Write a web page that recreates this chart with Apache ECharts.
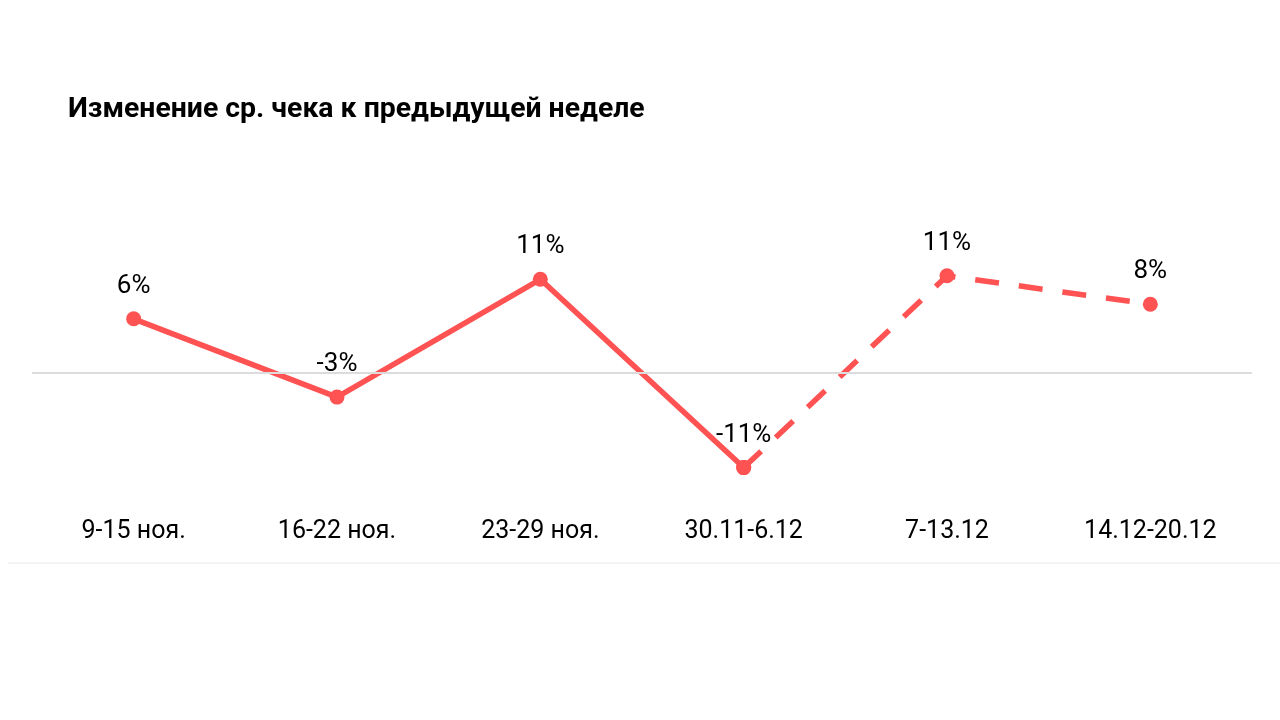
<!DOCTYPE html>
<html>
<head>
<meta charset="utf-8">
<script src="https://cdn.jsdelivr.net/npm/echarts@6/dist/echarts.min.js"></script>
<style>
	html,body{margin:0;padding:0;background:#fff;}
	#chart{width:1280px;height:720px;}
</style>
</head>
<body>
<div id="chart"></div>
<script type="text/javascript">
	// недели и изменение среднего чека, %
	var weeks = ['9-15 ноя.', '16-22 ноя.', '23-29 ноя.', '30.11-6.12', '7-13.12', '14.12-20.12'];
	var factValues = [6.3, -2.8, 10.9, -11.0, null, null];
	var forecastValues = [null, null, null, -11.0, 11.3, 8.0];
	var labelFrom = 4; // подписи прогноза начиная с этой недели

	var red = '#ff5252';
	var font = 'Roboto';

	var myChart = echarts.init(document.getElementById('chart'));

	var option = {
		title: {
			text: 'Изменение ср. чека к предыдущей неделе',
			left: 63,
			top: 91,
			textStyle: {
				fontFamily: font,
				fontSize: 28.4,
				fontWeight: 'bold',
				color: '#000'
			}
		},
		grid: {
			left: 32,
			right: 28,
			top: 244,
			bottom: 218
		},
		xAxis: {
			type: 'category',
			data: weeks,
			axisLine: {show: false},
			axisTick: {show: false},
			axisLabel: {
				margin: 17,
				fontFamily: font,
				fontSize: 25,
				color: '#000'
			}
		},
		yAxis: {
			type: 'value',
			min: -15,
			max: 15,
			show: false
		},
		graphic: [
			{
				type: 'line',
				shape: {x1: 8, y1: 563, x2: 1280, y2: 563},
				style: {stroke: '#e8e8e8', lineWidth: 1}
			}
		],
		series: [
			{
				type: 'line',
				data: factValues,
				symbol: 'circle',
				symbolSize: 15,
				lineStyle: {color: red, width: 5.5},
				itemStyle: {color: red},
				label: {
					show: true,
					position: 'top',
					distance: 12,
					fontFamily: font,
					fontSize: 26,
					color: '#000',
					formatter: function(p){ return Math.round(p.value) + '%'; }
				},
				markLine: {
					silent: true,
					symbol: 'none',
					label: {show: false},
					lineStyle: {color: '#dcdcdc', width: 2, type: 'solid'},
					data: [{yAxis: 0}]
				},
				z: 3
			},
			{
				type: 'line',
				data: forecastValues,
				symbol: 'circle',
				symbolSize: 15,
				lineStyle: {color: red, width: 5.5, type: [24, 20]},
				itemStyle: {color: red},
				label: {
					show: true,
					position: 'top',
					distance: 12,
					fontFamily: font,
					fontSize: 26,
					color: '#000',
					formatter: function(p){
						return p.dataIndex >= labelFrom ? Math.round(p.value) + '%' : '';
					}
				},
				z: 3
			}
		]
	};
	myChart.setOption(option);
</script>
</body>
</html>
